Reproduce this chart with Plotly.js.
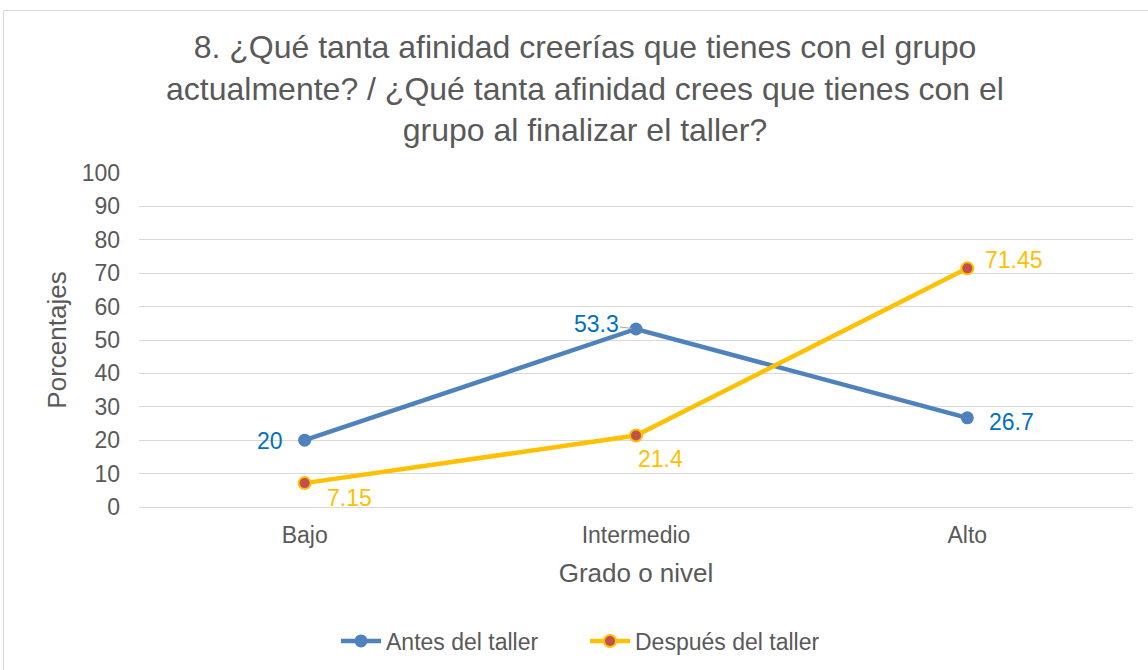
<!DOCTYPE html>
<html>
<head>
<meta charset="utf-8">
<script src="https://cdn.plot.ly/plotly-3.0.1.min.js"></script>
<style>html,body{margin:0;padding:0;background:#fff;}#chart{width:1148px;height:670px;}</style>
</head>
<body>
<div id="chart"></div>
<script>
const categories = ["Bajo", "Intermedio", "Alto"];
const antes = [20, 53.3, 26.7];
const despues = [7.15, 21.4, 71.45];
const antesLabels = ["20", "53.3", "26.7"];
const despuesLabels = ["7.15", "21.4", "71.45"];
const yTicks = [0, 10, 20, 30, 40, 50, 60, 70, 80, 90, 100];

const blue = "#4F81BD", blueText = "#0070C0";
const yellow = "#FFC000", red = "#C0504D";
const fontFam = "Liberation Sans, Arial, sans-serif";
const grey = "#595959";

const traces = [
  {
    x: categories, y: antes, name: "Antes del taller", type: "scatter", mode: "lines+markers",
    line: {color: blue, width: 4.5}, marker: {color: blue, size: 13}
  },
  {
    x: categories, y: despues, name: "Después del taller", type: "scatter", mode: "lines+markers",
    line: {color: yellow, width: 4.5}, marker: {color: red, size: 12, line: {color: yellow, width: 2}}
  }
];

// label placement styles (pixel offsets)
const antesStyle = [
  {xanchor: "right", xshift: -20, yshift: -1},
  {arrow: true, ax: -40, ay: -5},
  {xanchor: "left", xshift: 20, yshift: -4}
];
const despuesStyle = [
  {xanchor: "left", xshift: 20, yshift: -15},
  {xanchor: "left", xshift: 0, yshift: -23},
  {xanchor: "left", xshift: 16, yshift: 8}
];
const annotations = [];
function addLabels(vals, labels, styles, color) {
  vals.forEach((v, i) => {
    const s = styles[i];
    const a = {x: categories[i], y: v, xref: "x", yref: "y", text: labels[i],
      font: {family: fontFam, size: 23, color: color}};
    if (s.arrow) {
      Object.assign(a, {showarrow: true, arrowhead: 0, arrowwidth: 1, arrowcolor: "#A6A6A6",
        ax: s.ax, ay: s.ay, standoff: 4});
    } else {
      Object.assign(a, {showarrow: false, xanchor: s.xanchor, yanchor: "middle", xshift: s.xshift, yshift: s.yshift});
    }
    annotations.push(a);
  });
}
addLabels(antes, antesLabels, antesStyle, blueText);
addLabels(despues, despuesLabels, despuesStyle, yellow);

const layout = {
  width: 1148, height: 670,
  paper_bgcolor: "#fff", plot_bgcolor: "#fff",
  margin: {l: 139, r: 15, t: 173, b: 163, autoexpand: false},
  font: {family: fontFam, color: grey},
  title: {
    text: "8. ¿Qué tanta afinidad creerías que tienes con el grupo<br>actualmente? / ¿Qué tanta afinidad crees que tienes con el<br>grupo al finalizar el taller?",
    font: {family: fontFam, size: 32, color: grey},
    xref: "container", x: 585 / 1148, xanchor: "center",
    yref: "container", y: 1 - 58 / 670, yanchor: "top", automargin: false
  },
  xaxis: {
    type: "category", range: [-0.5, 2.5], showgrid: false, zeroline: false, showline: false,
    automargin: false,
    ticks: "", ticklabelstandoff: 12, tickfont: {family: fontFam, size: 23, color: grey},
    title: {text: "Grado o nivel", font: {family: fontFam, size: 26, color: grey}, standoff: 16}
  },
  yaxis: {
    range: [0, 100], tickvals: yTicks, ticktext: yTicks.map(String),
    automargin: false,
    showgrid: true, gridcolor: "#D9D9D9", gridwidth: 1, zeroline: true, zerolinecolor: "#D9D9D9", zerolinewidth: 1,
    showline: false, ticks: "", ticklen: 0, ticklabelstandoff: 18,
    tickfont: {family: fontFam, size: 23, color: grey},
    title: {text: "Porcentajes", font: {family: fontFam, size: 26, color: grey}, standoff: 7}
  },
  showlegend: true,
  legend: {
    orientation: "h", x: (585 - 139) / 994, xanchor: "center", y: (507 - 641) / 334, yanchor: "middle",
    font: {family: fontFam, size: 23, color: grey}, itemwidth: 40, entrywidth: 194, entrywidthmode: "pixels",
    traceorder: "normal"
  },
  annotations: annotations,
  shapes: [{
    type: "rect", xref: "paper", yref: "paper",
    x0: (3.5 - 139) / 994, x1: 1.2, y0: (507 - 10.5) / 334, y1: -0.7,
    line: {color: "#D9D9D9", width: 1}, fillcolor: "rgba(0,0,0,0)", layer: "below"
  }]
};

Plotly.newPlot("chart", traces, layout, {displayModeBar: false, staticPlot: true});
</script>
</body>
</html>
